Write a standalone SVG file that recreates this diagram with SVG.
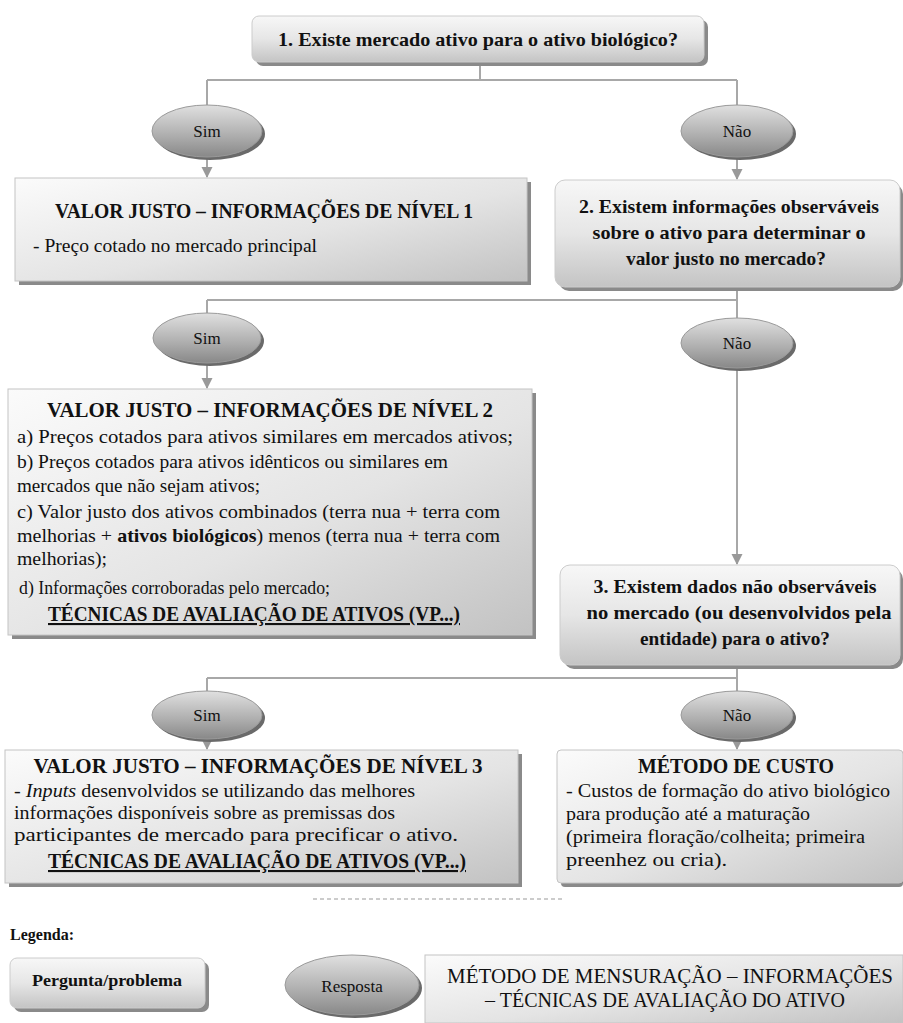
<svg xmlns="http://www.w3.org/2000/svg" width="903" height="1023" viewBox="0 0 903 1023">
<defs>
<linearGradient id="boxG" x1="0" y1="0" x2="1" y2="1">
<stop offset="0" stop-color="#fbfbfb"/><stop offset="0.55" stop-color="#e4e4e4"/><stop offset="1" stop-color="#c2c2c2"/>
</linearGradient>
<linearGradient id="qG" x1="0" y1="0" x2="0" y2="1">
<stop offset="0" stop-color="#f7f7f7"/><stop offset="0.5" stop-color="#e6e6e6"/><stop offset="1" stop-color="#c4c4c4"/>
</linearGradient>
<linearGradient id="eG" x1="0" y1="0" x2="0" y2="1">
<stop offset="0" stop-color="#e0e0e0"/><stop offset="0.6" stop-color="#adadad"/><stop offset="1" stop-color="#888888"/>
</linearGradient>
<marker id="arr" markerWidth="12" markerHeight="12" refX="10" refY="6" orient="auto" markerUnits="userSpaceOnUse">
<path d="M0,0.5 L11,6 L0,11.5 Z" fill="#999999"/>
</marker>
</defs>
<style>
.conn{stroke:#a8a8a8;stroke-width:2;fill:none}
.box{fill:url(#boxG);stroke:#c4c4c4;stroke-width:1}
.q{fill:url(#qG);stroke:#cccccc;stroke-width:1}
.sh{fill:#8a8a8a}
.ell{fill:url(#eG);stroke:#9a9a9a;stroke-width:1}
.esh{fill:#6a6a6a}
text{font-family:"Liberation Serif","Times New Roman",serif;fill:#111111}
.b{font-weight:bold}
.qt{font-size:19px;font-weight:bold;text-anchor:middle}
.tt{font-size:21px;font-weight:bold;text-anchor:middle}
.bd{font-size:19px}
.et{font-size:17px;text-anchor:middle}
</style>
<rect x="0" y="0" width="903" height="1023" fill="#ffffff"/>

<g id="connectors">
<path class="conn" d="M480,62 V80 M207,80 H737 M207,80 V106 M737,80 V106"/>
<path class="conn" d="M207,157 V177" marker-end="url(#arr)"/>
<path class="conn" d="M737,157 V179" marker-end="url(#arr)"/>
<path class="conn" d="M737,287 V300 M207,300 H737 M207,300 V314 M737,300 V318"/>
<path class="conn" d="M207,363 V388" marker-end="url(#arr)"/>
<path class="conn" d="M737,368 V564" marker-end="url(#arr)"/>
<path class="conn" d="M737,665 V678 M207,678 H737 M207,678 V692 M737,678 V692"/>
<path class="conn" d="M207,739 V749" marker-end="url(#arr)"/>
<path class="conn" d="M737,739 V749" marker-end="url(#arr)"/>
</g>

<g id="q1">
<rect class="sh" x="256" y="20" width="452" height="46" rx="7"/>
<rect class="q" x="252" y="16" width="452" height="46" rx="7"/>
<text class="qt" x="478" y="46" textLength="400" lengthAdjust="spacingAndGlyphs">1. Existe mercado ativo para o ativo biológico?</text>
</g>

<g id="sim1">
<ellipse class="esh" cx="210" cy="134" rx="55" ry="26"/>
<ellipse class="ell" cx="207" cy="131" rx="55" ry="26"/>
<text class="et" x="207" y="137">Sim</text>
</g>
<g id="nao1">
<ellipse class="esh" cx="740" cy="134" rx="56" ry="26"/>
<ellipse class="ell" cx="737" cy="131" rx="56" ry="26"/>
<text class="et" x="737" y="137">Não</text>
</g>

<g id="nivel1">
<rect class="sh" x="19" y="182" width="512" height="103"/>
<rect class="box" x="15" y="178" width="512" height="103"/>
<text class="tt" x="264" y="218" textLength="418" lengthAdjust="spacingAndGlyphs">VALOR JUSTO – INFORMAÇÕES DE NÍVEL 1</text>
<text class="bd" x="33" y="252" textLength="284" lengthAdjust="spacingAndGlyphs">- Preço cotado no mercado principal</text>
</g>

<g id="q2">
<rect class="sh" x="559" y="184" width="344" height="107" rx="10"/>
<rect class="q" x="555" y="180" width="345" height="107" rx="10"/>
<text class="qt" x="729" y="213" textLength="300" lengthAdjust="spacingAndGlyphs">2. Existem informações observáveis</text>
<text class="qt" x="729" y="239" textLength="273" lengthAdjust="spacingAndGlyphs">sobre o ativo para determinar o</text>
<text class="qt" x="726" y="265" textLength="200" lengthAdjust="spacingAndGlyphs">valor justo no mercado?</text>
</g>

<g id="sim2">
<ellipse class="esh" cx="210" cy="341" rx="54" ry="25"/>
<ellipse class="ell" cx="207" cy="338" rx="54" ry="25"/>
<text class="et" x="207" y="344">Sim</text>
</g>
<g id="nao2">
<ellipse class="esh" cx="740" cy="346" rx="56" ry="25"/>
<ellipse class="ell" cx="737" cy="343" rx="56" ry="25"/>
<text class="et" x="737" y="349">Não</text>
</g>

<g id="nivel2">
<rect class="sh" x="12" y="393" width="524" height="246"/>
<rect class="box" x="8" y="389" width="524" height="246"/>
<text class="tt" x="270" y="417" textLength="446" lengthAdjust="spacingAndGlyphs">VALOR JUSTO – INFORMAÇÕES DE NÍVEL 2</text>
<text class="bd" x="17" y="443" textLength="496" lengthAdjust="spacingAndGlyphs">a) Preços cotados para ativos similares  em mercados ativos;</text>
<text class="bd" x="17" y="468" textLength="431" lengthAdjust="spacingAndGlyphs">b) Preços cotados para ativos idênticos ou similares  em</text>
<text class="bd" x="17" y="492" textLength="243" lengthAdjust="spacingAndGlyphs">mercados que não sejam ativos;</text>
<text class="bd" x="17" y="518" textLength="483" lengthAdjust="spacingAndGlyphs">c) Valor justo dos ativos combinados (terra nua + terra com</text>
<text class="bd" x="17" y="542" textLength="483" lengthAdjust="spacingAndGlyphs">melhorias + <tspan class="b">ativos biológicos</tspan>) menos (terra nua + terra com</text>
<text class="bd" x="17" y="565" textLength="90" lengthAdjust="spacingAndGlyphs">melhorias);</text>
<text class="bd" x="19" y="594" textLength="311" lengthAdjust="spacingAndGlyphs">d) Informações corroboradas pelo mercado;</text>
<text class="tt" x="254" y="621" textLength="412" lengthAdjust="spacingAndGlyphs" text-decoration="underline">TÉCNICAS DE AVALIAÇÃO DE ATIVOS (VP...)</text>
</g>

<g id="q3">
<rect class="sh" x="564" y="569" width="339" height="100" rx="10"/>
<rect class="q" x="560" y="565" width="340" height="100" rx="10"/>
<text class="qt" x="735" y="593" textLength="283" lengthAdjust="spacingAndGlyphs">3. Existem dados não observáveis</text>
<text class="qt" x="739" y="619" textLength="305" lengthAdjust="spacingAndGlyphs">no mercado (ou desenvolvidos pela</text>
<text class="qt" x="735" y="645" textLength="190" lengthAdjust="spacingAndGlyphs">entidade) para o ativo?</text>
</g>

<g id="sim3">
<ellipse class="esh" cx="210" cy="718" rx="55" ry="24"/>
<ellipse class="ell" cx="207" cy="715" rx="55" ry="24"/>
<text class="et" x="207" y="721">Sim</text>
</g>
<g id="nao3">
<ellipse class="esh" cx="740" cy="718" rx="56" ry="24"/>
<ellipse class="ell" cx="737" cy="715" rx="56" ry="24"/>
<text class="et" x="737" y="721">Não</text>
</g>

<g id="nivel3">
<rect class="sh" x="9" y="754" width="513" height="133"/>
<rect class="box" x="5" y="750" width="513" height="133"/>
<text class="tt" x="258" y="773" textLength="449" lengthAdjust="spacingAndGlyphs">VALOR JUSTO – INFORMAÇÕES DE NÍVEL 3</text>
<text class="bd" x="14" y="797" textLength="401" lengthAdjust="spacingAndGlyphs">- <tspan font-style="italic">Inputs</tspan> desenvolvidos se utilizando das melhores</text>
<text class="bd" x="14" y="819" textLength="381" lengthAdjust="spacingAndGlyphs">informações disponíveis sobre as premissas dos</text>
<text class="bd" x="14" y="841" textLength="444" lengthAdjust="spacingAndGlyphs">participantes de mercado para precificar o ativo.</text>
<text class="tt" x="257" y="868" textLength="418" lengthAdjust="spacingAndGlyphs" text-decoration="underline">TÉCNICAS DE AVALIAÇÃO DE ATIVOS (VP...)</text>
</g>

<g id="custo">
<rect class="sh" x="561" y="754" width="342" height="133" rx="4"/>
<rect class="box" x="557" y="750" width="346" height="133" rx="4"/>
<text class="tt" x="736" y="773" textLength="196" lengthAdjust="spacingAndGlyphs">MÉTODO DE CUSTO</text>
<text class="bd" x="566" y="797" textLength="324" lengthAdjust="spacingAndGlyphs">- Custos de formação do ativo biológico</text>
<text class="bd" x="566" y="820" textLength="244" lengthAdjust="spacingAndGlyphs">para produção até a maturação</text>
<text class="bd" x="566" y="843" textLength="299" lengthAdjust="spacingAndGlyphs">(primeira floração/colheita; primeira</text>
<text class="bd" x="566" y="866" textLength="161" lengthAdjust="spacingAndGlyphs">preenhez ou cria).</text>
</g>

<line x1="313" y1="899" x2="565" y2="899" stroke="#cccccc" stroke-width="2" stroke-dasharray="4 3"/>

<g id="legenda">
<text class="b" x="10" y="940" font-size="16">Legenda:</text>
<rect class="sh" x="14" y="962" width="195" height="50" rx="7"/>
<rect class="q" x="10" y="958" width="195" height="50" rx="7"/>
<text class="b" x="107" y="986" font-size="17" text-anchor="middle" textLength="150" lengthAdjust="spacingAndGlyphs">Pergunta/problema</text>
<ellipse class="esh" cx="355" cy="988" rx="67" ry="30"/>
<ellipse class="ell" cx="352" cy="985" rx="67" ry="30"/>
<text class="et" x="352" y="992" font-size="18">Resposta</text>
<rect class="sh" x="429" y="959" width="474" height="64"/>
<rect class="box" x="425" y="955" width="478" height="68"/>
<text x="670" y="983" font-size="20" text-anchor="middle" textLength="446" lengthAdjust="spacingAndGlyphs">MÉTODO DE MENSURAÇÃO – INFORMAÇÕES</text>
<text x="665" y="1007" font-size="20" text-anchor="middle" textLength="360" lengthAdjust="spacingAndGlyphs">– TÉCNICAS DE AVALIAÇÃO DO ATIVO</text>
</g>
</svg>
